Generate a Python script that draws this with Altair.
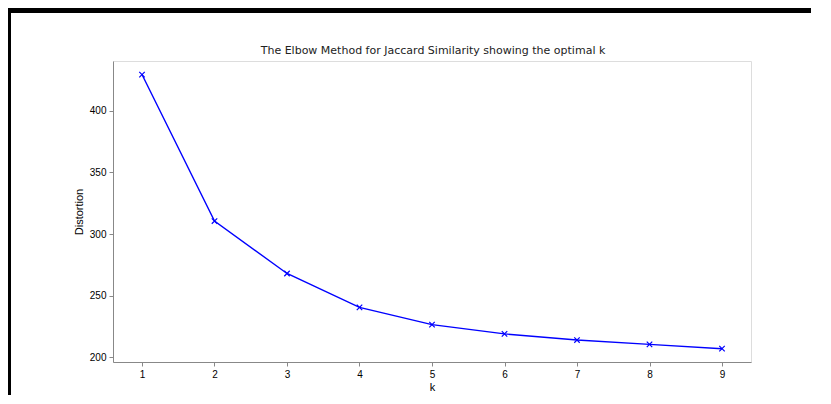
import altair as alt
import pandas as pd

k_values = [1, 2, 3, 4, 5, 6, 7, 8, 9]
distortion = [429.3, 310.5, 268.0, 240.5, 226.5, 219.0, 214.0, 210.5, 207.0]
title_text = "The Elbow Method for Jaccard Similarity showing the optimal k"

df = pd.DataFrame({"k": k_values, "Distortion": distortion})
one = pd.DataFrame({"t": [title_text]})

W, H = 638, 301
PAD_L, PAD_T = 105, 53

x_enc = alt.X("k:Q", title="k",
              scale=alt.Scale(domain=[0.6, 9.4], nice=False, zero=False),
              axis=alt.Axis(values=k_values, format="d", grid=False, tickSize=4,
                            labelPadding=3, titlePadding=2, titleFontWeight="normal"))
y_enc = alt.Y("Distortion:Q", title="Distortion",
              scale=alt.Scale(domain=[196.2, 440.3], nice=False, zero=False),
              axis=alt.Axis(values=[200, 250, 300, 350, 400], grid=False, tickSize=4,
                            labelPadding=3, titlePadding=5, titleFontWeight="normal"))

line = alt.Chart(df).mark_line(color="#0000ff", strokeWidth=1.4).encode(x=x_enc, y=y_enc)
pts = alt.Chart(df).mark_point(
    shape="M-1,-1L1,1M-1,1L1,-1", size=30, color="#0000ff",
    filled=False, strokeWidth=1.2, opacity=1
).encode(x="k:Q", y="Distortion:Q")

title_mark = alt.Chart(one).mark_text(
    font="DejaVu Sans", fontSize=11, fontWeight="normal", color="#222",
    align="center", baseline="bottom"
).encode(x=alt.value(W / 2 + 1), y=alt.value(-5), text="t:N")

frame_top = alt.Chart(one).mark_rule(color="black", strokeWidth=6).encode(
    x=alt.value(-PAD_L - 5), x2=alt.value(W + 200), y=alt.value(-51))
frame_left = alt.Chart(one).mark_rule(color="black", strokeWidth=6).encode(
    x=alt.value(-PAD_L), y=alt.value(-51), y2=alt.value(H + 100))

chart = alt.layer(line, pts, title_mark, frame_top, frame_left).properties(
    width=W, height=H,
    autosize=alt.AutoSizeParams(type="none"),
    padding={"left": PAD_L, "top": PAD_T, "right": 60, "bottom": 33},
).configure_view(
    stroke="#666", strokeWidth=1
).configure_axis(
    labelFont="DejaVu Sans", titleFont="DejaVu Sans", labelFontSize=9.5,
    titleFontSize=9.5, titleFontWeight="normal", labelColor="#444", titleColor="#444",
    domainColor="#666", tickColor="#666", domainWidth=1
).configure(background="white")

chart.save("out.html", embed_options={"renderer": "svg", "actions": False})
